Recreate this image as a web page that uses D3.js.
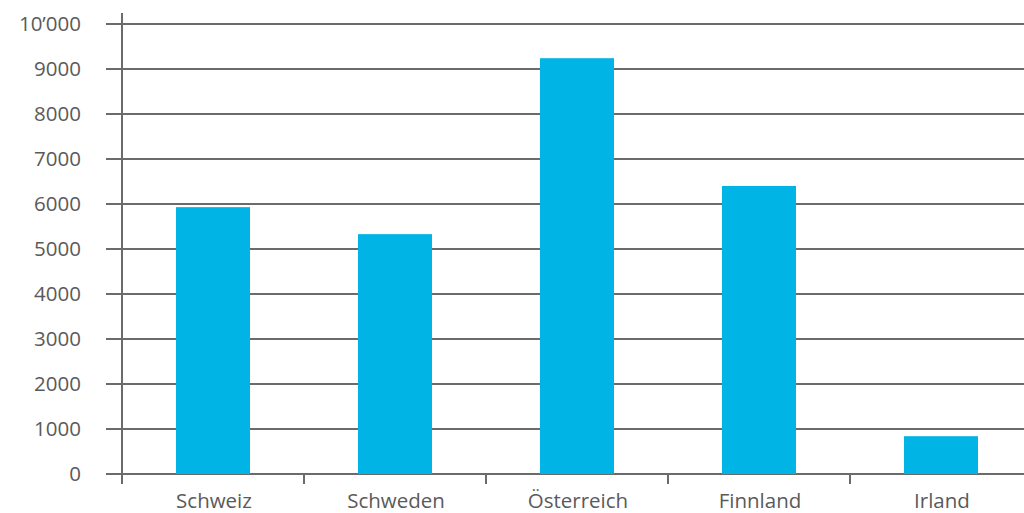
<!DOCTYPE html>
<html>
<head>
<meta charset="utf-8">
<script src="https://cdn.jsdelivr.net/npm/d3@7"></script>
<style>
  html, body { margin: 0; padding: 0; background: #fff; }
  svg { display: block; }
  text { font-family: "Open Sans", "Noto Sans", sans-serif; fill: #5a5a5a; }
</style>
</head>
<body>
<svg id="chart" width="1024" height="513"></svg>
<script>
// Data
const categories = ["Schweiz", "Schweden", "Österreich", "Finnland", "Irland"];
const values = [5930, 5330, 9240, 6400, 840];
const tickValues = [0, 1000, 2000, 3000, 4000, 5000, 6000, 7000, 8000, 9000, 10000];
const tickLabels = ["0", "1000", "2000", "3000", "4000", "5000", "6000", "7000", "8000", "9000", "10’000"];

const svg = d3.select("#chart");
const axisColor = "#6b6b6b";

const x = d3.scaleBand()
  .domain(categories)
  .range([122, 1032])
  .paddingInner(0)
  .paddingOuter(0);

const y = d3.scaleLinear()
  .domain([0, 10000])
  .range([474, 24]);

// Horizontal gridlines with left tick stubs
svg.append("g")
  .selectAll("line")
  .data(tickValues)
  .join("line")
  .attr("x1", 106)
  .attr("x2", 1024)
  .attr("y1", d => y(d))
  .attr("y2", d => y(d))
  .attr("stroke", axisColor)
  .attr("stroke-width", 2);

// Y tick labels
svg.append("g")
  .selectAll("text")
  .data(tickValues)
  .join("text")
  .attr("x", 81)
  .attr("y", d => y(d))
  .attr("dy", "0.35em")
  .attr("text-anchor", "end")
  .attr("font-size", 20.5)
  .text((d, i) => tickLabels[i]);

// Bars
const barW = 74;
svg.append("g")
  .selectAll("rect")
  .data(values)
  .join("rect")
  .attr("x", (d, i) => x(categories[i]) + (x.bandwidth() - barW) / 2)
  .attr("width", barW)
  .attr("y", d => y(d))
  .attr("height", d => y(0) - y(d))
  .attr("fill", "#00b4e6");

// Vertical axis line
svg.append("line")
  .attr("x1", 122).attr("x2", 122)
  .attr("y1", 13).attr("y2", 484)
  .attr("stroke", axisColor)
  .attr("stroke-width", 2);

// Category boundary ticks below baseline
svg.append("g")
  .selectAll("line")
  .data(categories.slice(1))
  .join("line")
  .attr("x1", d => x(d))
  .attr("x2", d => x(d))
  .attr("y1", y(0))
  .attr("y2", 484)
  .attr("stroke", axisColor)
  .attr("stroke-width", 2);

// Category labels
svg.append("g")
  .selectAll("text")
  .data(categories)
  .join("text")
  .attr("x", d => x(d) + x.bandwidth() / 2 + 1)
  .attr("y", 508)
  .attr("text-anchor", "middle")
  .attr("font-size", 20.5)
  .text(d => d);
</script>
</body>
</html>
